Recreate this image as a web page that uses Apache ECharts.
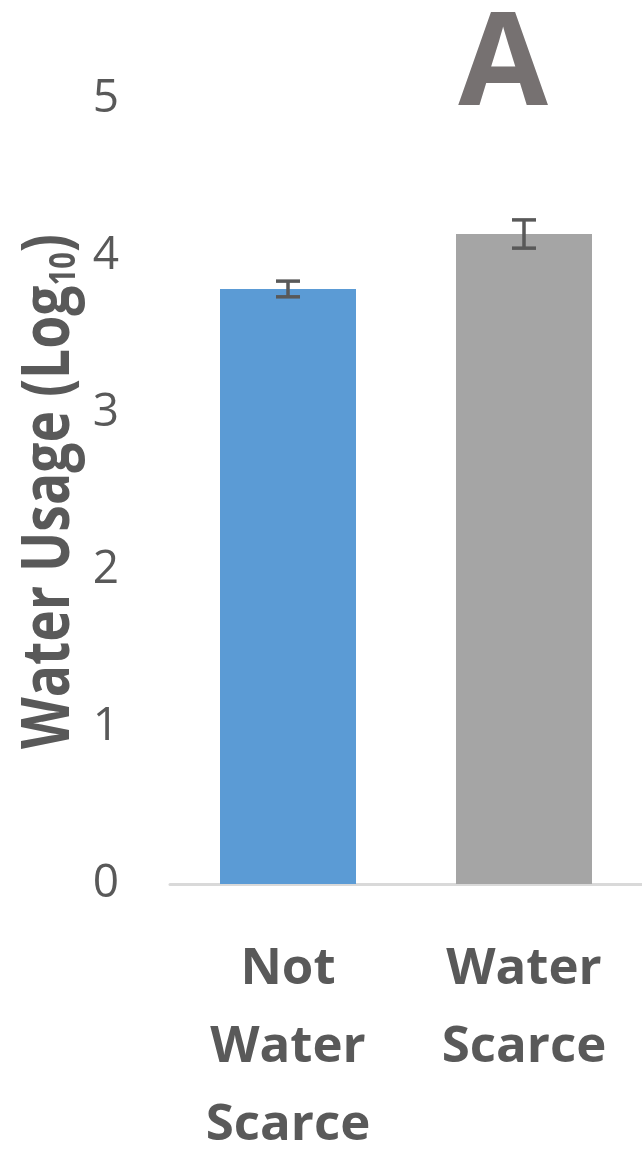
<!DOCTYPE html>
<html>
<head>
<meta charset="utf-8">
<style>
  html, body { margin: 0; padding: 0; background: #ffffff; }
  #chart { width: 642px; height: 1149px; }
</style>
<script src="https://cdn.jsdelivr.net/npm/echarts@6/dist/echarts.min.js"></script>
</head>
<body>
<div id="chart"></div>
<script>
// Mean water usage (log10) with standard-error bars
const categories = ['Not\nWater\nScarce', 'Water\nScarce'];
const means = [3.79, 4.14];
const errors = [0.05, 0.09];
const barColors = ['#5b9bd5', '#a5a5a5'];
const yTicks = [0, 1, 2, 3, 4, 5];
const panelLetter = 'A';

const chart = echarts.init(document.getElementById('chart'), null, { renderer: 'canvas' });

const textColor = '#595959';
const gridLeft = 170, gridTop = 99, gridBottom = 265;

chart.setOption({
  animation: false,
  backgroundColor: '#ffffff',
  grid: {
    left: gridLeft, right: 0, top: gridTop, bottom: gridBottom,
    containLabel: false,
    outerBoundsMode: 'none'
  },
  graphic: [
    {
      // panel letter
      type: 'text',
      x: 503,
      y: 68,
      style: {
        text: panelLetter,
        align: 'center',
        verticalAlign: 'middle',
        fontFamily: 'Open Sans',
        fontWeight: 'bold',
        fontSize: 130,
        fill: '#767171'
      }
    },
    {
      // y-axis title, set in a condensed bold face
      type: 'text',
      x: 50,
      y: (gridTop + (1149 - gridBottom)) / 2,
      rotation: Math.PI / 2,
      scaleX: 0.81,
      style: {
        text: '{m|Water Usage (Log}{s|10}{m|)}',
        align: 'center',
        verticalAlign: 'middle',
        rich: {
          m: { fontFamily: 'Open Sans', fontWeight: 'bold', fontSize: 66, fill: textColor },
          s: { fontFamily: 'Open Sans', fontWeight: 'bold', fontSize: 36, fill: textColor, verticalAlign: 'bottom', padding: [30, 0, 0, 0] }
        }
      }
    }
  ],
  xAxis: {
    type: 'category',
    data: categories,
    axisLine: { lineStyle: { color: '#d9d9d9', width: 3 } },
    axisTick: { show: false },
    axisLabel: {
      margin: 46,
      color: textColor,
      fontFamily: 'Open Sans',
      fontWeight: 'bold',
      fontSize: 51,
      lineHeight: 78
    }
  },
  yAxis: {
    type: 'value',
    min: yTicks[0],
    max: yTicks[yTicks.length - 1],
    interval: 1,
    splitLine: { show: false },
    axisLine: { show: false },
    axisTick: { show: false },
    axisLabel: {
      margin: 51,
      color: textColor,
      fontFamily: 'Open Sans',
      fontSize: 46
    }
  },
  series: [
    {
      type: 'bar',
      barWidth: 136,
      data: means.map((v, i) => ({ value: v, itemStyle: { color: barColors[i] } })),
      z: 2
    },
    {
      type: 'custom',
      z: 5,
      data: means.map((v, i) => [i, v - errors[i], v + errors[i]]),
      renderItem: function (params, api) {
        const lo = api.coord([api.value(0), api.value(1)]);
        const hi = api.coord([api.value(0), api.value(2)]);
        const half = 12;
        const style = { stroke: '#595959', lineWidth: 3.5, fill: null };
        return {
          type: 'group',
          children: [
            { type: 'line', shape: { x1: lo[0], y1: lo[1], x2: hi[0], y2: hi[1] }, style: style },
            { type: 'line', shape: { x1: lo[0] - half, y1: lo[1], x2: lo[0] + half, y2: lo[1] }, style: style },
            { type: 'line', shape: { x1: hi[0] - half, y1: hi[1], x2: hi[0] + half, y2: hi[1] }, style: style }
          ]
        };
      }
    }
  ]
});
</script>
</body>
</html>
